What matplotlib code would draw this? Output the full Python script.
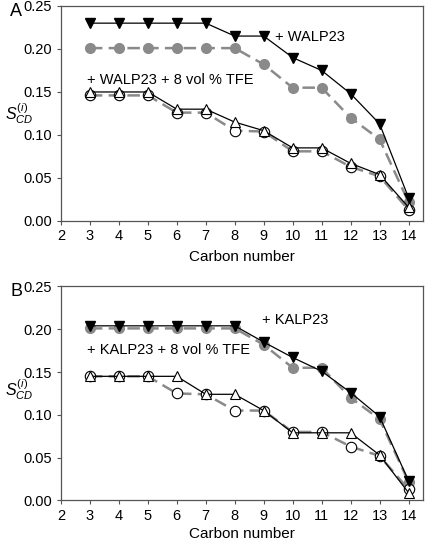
import numpy as np
import matplotlib.pyplot as plt

plt.rcParams['font.family'] = ['Liberation Sans', 'DejaVu Sans']
plt.rcParams['mathtext.fontset'] = 'custom'
plt.rcParams['mathtext.it'] = 'Liberation Sans:italic'
plt.rcParams['mathtext.rm'] = 'Liberation Sans'

carbon = [3, 4, 5, 6, 7, 8, 9, 10, 11, 12, 13, 14]

# panel A
walp = [0.230, 0.230, 0.230, 0.230, 0.230, 0.215, 0.215, 0.190, 0.175, 0.148, 0.113, 0.027]
pure_a = [0.201, 0.201, 0.201, 0.201, 0.201, 0.201, 0.182, 0.155, 0.155, 0.120, 0.095, 0.022]
walp_tfe = [0.150, 0.150, 0.150, 0.130, 0.130, 0.115, 0.105, 0.085, 0.085, 0.067, 0.054, 0.016]
tfe_a = [0.146, 0.146, 0.146, 0.126, 0.126, 0.105, 0.104, 0.081, 0.081, 0.063, 0.052, 0.013]

# panel B
kalp = [0.204, 0.204, 0.204, 0.204, 0.204, 0.204, 0.185, 0.167, 0.151, 0.126, 0.098, 0.023]
pure_b = [0.201, 0.201, 0.201, 0.201, 0.201, 0.201, 0.182, 0.155, 0.155, 0.120, 0.095, 0.022]
kalp_tfe = [0.145, 0.145, 0.145, 0.145, 0.124, 0.124, 0.105, 0.079, 0.079, 0.079, 0.053, 0.009]
tfe_b = [0.145, 0.145, 0.145, 0.125, 0.124, 0.105, 0.105, 0.080, 0.080, 0.063, 0.052, 0.013]

gray = '#8a8a8a'
spine_c = '#555555'

fig = plt.figure(figsize=(4.26, 5.41), dpi=100)
axA = fig.add_axes([0.143, 0.5915, 0.85, 0.3975])
axB = fig.add_axes([0.143, 0.075, 0.85, 0.3955])


def draw(ax, pep, pure, pep_tfe, tfe, lab1, pos1, lab2, pos2, letter, ylab_y, xpad):
    ax.plot(carbon, pure, '--', color=gray, lw=1.8, dashes=(5, 2.5), marker='o',
            ms=7, mfc=gray, mec=gray, zorder=2)
    ax.plot(carbon, pep, '-', color='black', lw=0.9, marker='v', ms=7.5,
            mfc='black', mec='black', zorder=3)
    ax.plot(carbon, tfe, '--', color=gray, lw=1.8, dashes=(5, 2.5), marker='o',
            ms=7.5, mfc='white', mec='black', mew=0.8, zorder=2)
    ax.plot(carbon, pep_tfe, '-', color='black', lw=0.9, marker='^', ms=7.5,
            mfc='white', mec='black', mew=0.8, zorder=3)
    ax.text(pos1[0], pos1[1], lab1, fontsize=10.5, va='center', ha='left')
    ax.text(pos2[0], pos2[1], lab2, fontsize=10.5, va='center', ha='left')
    ax.set_xlim(2, 14.5)
    ax.set_ylim(0, 0.25)
    ax.set_xticks(range(2, 15))
    ax.set_yticks([0, 0.05, 0.10, 0.15, 0.20, 0.25])
    ax.set_yticklabels(['0.00', '0.05', '0.10', '0.15', '0.20', '0.25'])
    ax.tick_params(labelsize=10.5, length=3, color=spine_c, direction='out')
    ax.tick_params(axis='x', pad=3)
    for s in ax.spines.values():
        s.set_color(spine_c)
        s.set_linewidth(0.9)
    ax.set_xlabel('Carbon number', fontsize=11, labelpad=xpad)
    ax.text(-0.155, ylab_y, r'$S_{CD}^{(i)}$', transform=ax.transAxes,
            fontsize=11.5, va='center', ha='left')
    ax.text(-0.124, 0.975, letter, transform=ax.transAxes, fontsize=13,
            va='center', ha='center')


draw(axA, walp, pure_a, walp_tfe, tfe_a,
     '+ WALP23', (9.4, 0.214), '+ WALP23 + 8 vol % TFE', (2.9, 0.164), 'A', 0.5, 5)
draw(axB, kalp, pure_b, kalp_tfe, tfe_b,
     '+ KALP23', (8.95, 0.2105), '+ KALP23 + 8 vol % TFE', (2.9, 0.1756), 'B', 0.52, 3)

fig.savefig('out.png', dpi=100)
